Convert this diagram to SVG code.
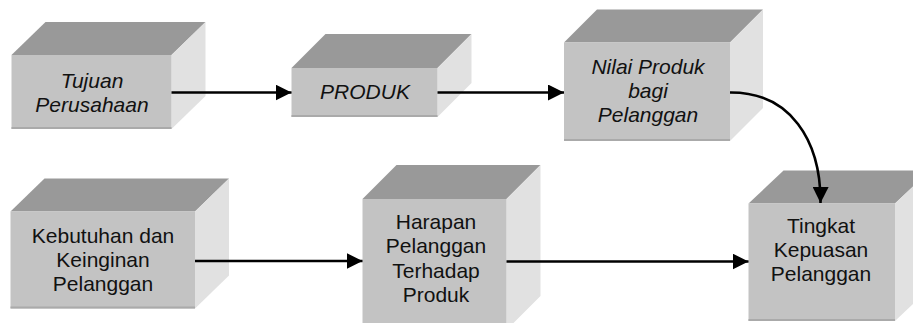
<svg xmlns="http://www.w3.org/2000/svg" width="913" height="323" viewBox="0 0 913 323">
  <defs>
    <style>
      .front { fill: #c3c3c3; }
      .top { fill: #999999; }
      .side { fill: #e1e1e1; }
      .edge { stroke: #aaaaaa; stroke-width: 2; fill: none; }
      .lbl { font-family: "Liberation Sans", Arial, sans-serif; font-size: 21px; fill: #111111; text-anchor: middle; }
      .it { font-style: italic; }
      .conn { stroke: #000000; stroke-width: 2.6; fill: none; marker-end: url(#arrow); }
    </style>
    <marker id="arrow" viewBox="0 0 16 16" refX="16" refY="8" markerWidth="16" markerHeight="16" markerUnits="userSpaceOnUse" orient="auto">
      <path d="M0,0 L16,8 L0,16 z" fill="#000000"/>
    </marker>
  </defs>
  <rect width="913" height="323" fill="#ffffff"/>

  <g id="node-tujuan">
    <polygon class="top" points="11.5,55 45.5,22 205.5,22 171.5,55"/>
    <polygon class="side" points="171.5,55 205.5,22 205.5,96 171.5,129"/>
    <rect class="front" x="11.5" y="55" width="160" height="74"/>
    <line class="edge" x1="11.5" y1="128" x2="171.5" y2="128"/>
    <text class="lbl it" x="92" y="88">Tujuan</text>
    <text class="lbl it" x="92" y="112">Perusahaan</text>
  </g>

  <g id="node-produk">
    <polygon class="top" points="291.5,68 325.5,34 471.5,34 437.5,68"/>
    <polygon class="side" points="437.5,68 471.5,34 471.5,83 437.5,117"/>
    <rect class="front" x="291.5" y="68" width="146" height="49"/>
    <line class="edge" x1="291.5" y1="116" x2="437.5" y2="116"/>
    <text class="lbl it" x="365" y="99">PRODUK</text>
  </g>

  <g id="node-nilai">
    <polygon class="top" points="564,42.5 597,9.5 763,9.5 730,42.5"/>
    <polygon class="side" points="730,42.5 763,9.5 763,108 730,141"/>
    <rect class="front" x="564" y="42.5" width="166" height="98.5"/>
    <line class="edge" x1="564" y1="140" x2="730" y2="140"/>
    <text class="lbl it" x="648" y="74.3">Nilai Produk</text>
    <text class="lbl it" x="648" y="98.3">bagi</text>
    <text class="lbl it" x="648" y="122.3">Pelanggan</text>
  </g>

  <g id="node-kebutuhan">
    <polygon class="top" points="10.5,211.5 44.5,178.5 229,178.5 195,211.5"/>
    <polygon class="side" points="195,211.5 229,178.5 229,275.5 195,308.5"/>
    <rect class="front" x="10.5" y="211.5" width="184.5" height="97"/>
    <line class="edge" x1="10.5" y1="307.5" x2="195" y2="307.5"/>
    <text class="lbl" x="103" y="243.3">Kebutuhan dan</text>
    <text class="lbl" x="103" y="267.3">Keinginan</text>
    <text class="lbl" x="103" y="291.3">Pelanggan</text>
  </g>

  <g id="node-harapan">
    <polygon class="top" points="362.5,199 396.5,165 540.5,165 506.5,199"/>
    <polygon class="side" points="506.5,199 540.5,165 540.5,296 506.5,330"/>
    <rect class="front" x="362.5" y="199" width="144" height="131"/>
    <text class="lbl" x="436" y="229">Harapan</text>
    <text class="lbl" x="436" y="253">Pelanggan</text>
    <text class="lbl" x="436" y="277.5">Terhadap</text>
    <text class="lbl" x="436" y="301.5">Produk</text>
  </g>

  <g id="node-tingkat">
    <polygon class="top" points="748.5,203.5 783.5,170.5 930,170.5 895,203.5"/>
    <polygon class="side" points="895,203.5 930,170.5 930,288 895,321"/>
    <rect class="front" x="748.5" y="203.5" width="146.5" height="117.5"/>
    <line class="edge" x1="748.5" y1="320" x2="895" y2="320"/>
    <text class="lbl" x="821" y="233.3">Tingkat</text>
    <text class="lbl" x="821" y="257.3">Kepuasan</text>
    <text class="lbl" x="821" y="281.3">Pelanggan</text>
  </g>

  <g id="connectors">
    <path class="conn" d="M171.5,92.5 H291.5"/>
    <path class="conn" d="M437.5,92.5 H564"/>
    <path class="conn" d="M730,92.5 C790,92 821,140 820.5,203"/>
    <path class="conn" d="M195,261 H362.5"/>
    <path class="conn" d="M506.5,261.5 H748.5"/>
  </g>
</svg>
